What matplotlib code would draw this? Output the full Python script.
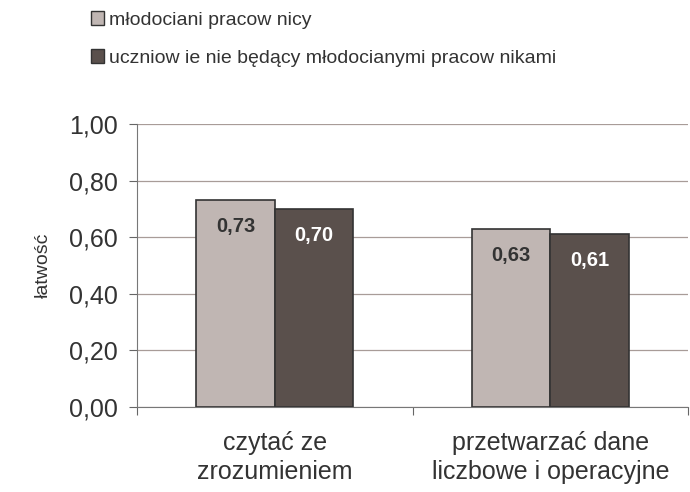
import matplotlib
matplotlib.use("Agg")
import matplotlib.pyplot as plt
import numpy as np
from matplotlib.patches import Patch

plt.rcParams['font.family'] = ['Liberation Sans', 'DejaVu Sans']

categories = ["czytać ze\nzrozumieniem", "przetwarzać dane\nliczbowe i operacyjne"]
series_names = ["młodociani pracow nicy", "uczniow ie nie będący młodocianymi pracow nikami"]
values_a = [0.73, 0.63]
values_b = [0.70, 0.61]
labels_a = ["0,73", "0,63"]
labels_b = ["0,70", "0,61"]
yticks = [0.0, 0.2, 0.4, 0.6, 0.8, 1.0]
ytick_labels = ["0,00", "0,20", "0,40", "0,60", "0,80", "1,00"]

c_light = "#C0B6B3"
c_dark = "#5A504C"
edge = "#333333"

fig = plt.figure(figsize=(6.9, 4.92), dpi=100)
ax = fig.add_axes([0.1986, 0.1728, 0.7985, 0.5752])

x = np.arange(len(categories)) + 0.5
w = 0.285
ba = ax.bar(x - w / 2, values_a, w, color=c_light, edgecolor=edge, linewidth=1.2, zorder=3)
bb = ax.bar(x + w / 2, values_b, w, color=c_dark, edgecolor=edge, linewidth=1.2, zorder=3)

for rect, lab in zip(ba, labels_a):
    ax.annotate(lab, (rect.get_x() + rect.get_width() / 2, rect.get_height()),
                xytext=(0, -19), textcoords="offset points", ha="center", va="center",
                fontsize=14.5, fontweight="bold", color="#333333", zorder=4)
for rect, lab in zip(bb, labels_b):
    ax.annotate(lab, (rect.get_x() + rect.get_width() / 2, rect.get_height()),
                xytext=(0, -19), textcoords="offset points", ha="center", va="center",
                fontsize=14.5, fontweight="bold", color="white", zorder=4)

ax.set_xlim(0, 2)
ax.set_ylim(0, 1.0)
ax.set_yticks(yticks)
ax.set_yticklabels(ytick_labels, fontsize=18, color="#333333")
ax.yaxis.grid(True, color="#A89C98", linewidth=0.9, zorder=0)
ax.set_axisbelow(True)

ax.set_xticks([0, 1, 2])
ax.set_xticklabels([])
ax.set_xticks(x, minor=True)
ax.set_xticklabels(categories, minor=True, fontsize=18, color="#333333", linespacing=1.3)
ax.tick_params(axis="x", which="minor", length=0, pad=17)
ax.tick_params(axis="x", which="major", length=6, color="#666666", direction="out")
ax.tick_params(axis="y", length=6, color="#666666", direction="out", pad=8)

for s in ["top", "right"]:
    ax.spines[s].set_visible(False)
ax.spines["left"].set_color("#777777")
ax.spines["bottom"].set_color("#777777")

ax.set_ylabel("łatwość", fontsize=14, color="#333333")
ax.yaxis.set_label_coords(-0.155, 0.5)

handles = [Patch(facecolor=c_light, edgecolor=edge), Patch(facecolor=c_dark, edgecolor=edge)]
fig.legend(handles, series_names, loc="upper left", bbox_to_anchor=(0.106, 1.013),
           frameon=False, fontsize=14, handlelength=0.7, handleheight=0.7,
           handletextpad=0.25, labelspacing=1.05, labelcolor="#333333")

fig.savefig("out.png", dpi=100)
